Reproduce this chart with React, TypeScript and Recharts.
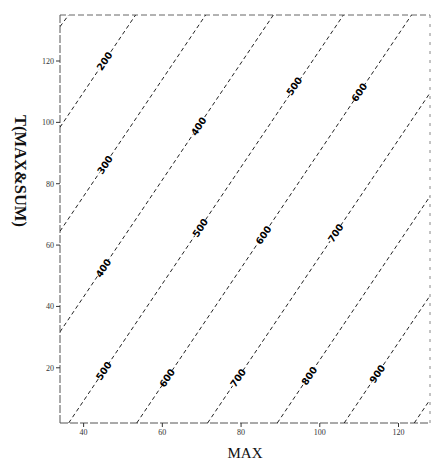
import React from "react";
import { ScatterChart, Scatter, XAxis, YAxis, ReferenceLine } from "recharts";

// Contour levels and where each contour line enters/leaves the plot (MAX, T)
const levels = [100, 200, 300, 400, 500, 600, 700, 800, 900, 1000];
const lineStartMax = [34, 34, 34, 34, 36.2, 53.5, 71.5, 89.2, 106.2, 124.0];
const lineStartT = [131.2, 98.4, 64.5, 31.7, 2, 2, 2, 2, 2, 2];
const lineEndMax = [36.2, 53.2, 71.0, 88.2, 106.0, 123.3, 128, 128, 128, 128];
const lineEndT = [135, 135, 135, 135, 135, 135, 109.6, 75.9, 43.5, 9.6];

// Inline contour labels
const labelLevels = [200, 300, 400, 400, 500, 500, 500, 600, 600, 600, 700, 700, 800, 900];
const labelMax = [45.3, 45.4, 45.0, 69.2, 45.1, 69.6, 93.5, 61.2, 85.7, 110.0, 79.2, 104.0, 97.3, 114.6];
const labelT = [120.0, 86.2, 52.5, 98.7, 19.0, 65.6, 111.8, 16.7, 63.3, 109.8, 16.7, 63.9, 17.4, 18.0];

const xTicks = [40, 60, 80, 100, 120];
const yTicks = [20, 40, 60, 80, 100, 120];

const lines = levels.map((lv, i) => ({
  level: lv,
  data: [
    { x: lineStartMax[i], y: lineStartT[i] },
    { x: lineEndMax[i], y: lineEndT[i] },
  ],
}));

const labels = labelLevels.map((lv, i) => ({ x: labelMax[i], y: labelT[i], level: lv }));

const NoShape = () => <g />;

const LabelShape = (props: any) => {
  const { cx, cy, payload } = props;
  if (cx == null || cy == null) return <g />;
  return (
    <g transform={`translate(${cx},${cy}) rotate(-56)`}>
      <rect x={-9.5} y={-5} width={19} height={10} fill="#fff" />
      <text
        x={0}
        y={3.5}
        textAnchor="middle"
        fontSize={9.5}
        fontWeight="bold"
        fontFamily="DejaVu Sans, sans-serif"
        fill="#000"
      >
        {payload.level}
      </text>
    </g>
  );
};

const YLabel = () => (
  <text
    x={20}
    y={171}
    transform="rotate(90,20,171)"
    textAnchor="middle"
    dominantBaseline="central"
    fontSize={16.5}
    fontWeight="bold"
    fontFamily="Liberation Serif, serif"
    fill="#111"
  >
    T(MAX&amp;SUM)
  </text>
);

export default function App() {
  return (
    <div style={{ position: "absolute", left: 0, top: 0, background: "#fff" }}>
      <ScatterChart
        width={435}
        height={460}
        margin={{ top: 15, right: 5, bottom: 0, left: 0 }}
      >
        <XAxis
          type="number"
          dataKey="x"
          domain={[34, 128]}
          ticks={xTicks}
          allowDataOverflow
          height={37}
          tickSize={4}
          axisLine={{ stroke: "#555", strokeDasharray: "8 2" }}
          tickLine={{ stroke: "#333" }}
          tick={{ fontSize: 8, fill: "#333", fontFamily: "Liberation Serif, serif" }}
          label={{
            value: "MAX",
            position: "insideBottom",
            offset: 2,
            fontSize: 15,
            fill: "#111",
            fontFamily: "Liberation Serif, serif",
          }}
        />
        <YAxis
          type="number"
          dataKey="y"
          domain={[2, 135]}
          ticks={yTicks}
          allowDataOverflow
          width={60}
          tickSize={4}
          axisLine={{ stroke: "#555", strokeDasharray: "8 2" }}
          tickLine={{ stroke: "#333" }}
          tick={{ fontSize: 8, fill: "#333", fontFamily: "Liberation Serif, serif" }}
          label={{ content: () => <YLabel /> }}
        />
        <ReferenceLine y={135} stroke="#666" strokeDasharray="6 3" ifOverflow="extendDomain" />
        <ReferenceLine x={128} stroke="#888" strokeDasharray="3 6" ifOverflow="extendDomain" />
        {lines.map((l) => (
          <Scatter
            key={l.level}
            data={l.data}
            line={{ stroke: "#222", strokeWidth: 1, strokeDasharray: "4 3" }}
            lineType="joint"
            shape={NoShape}
            isAnimationActive={false}
          />
        ))}
        <Scatter data={labels} shape={LabelShape} isAnimationActive={false} />
      </ScatterChart>
    </div>
  );
}
